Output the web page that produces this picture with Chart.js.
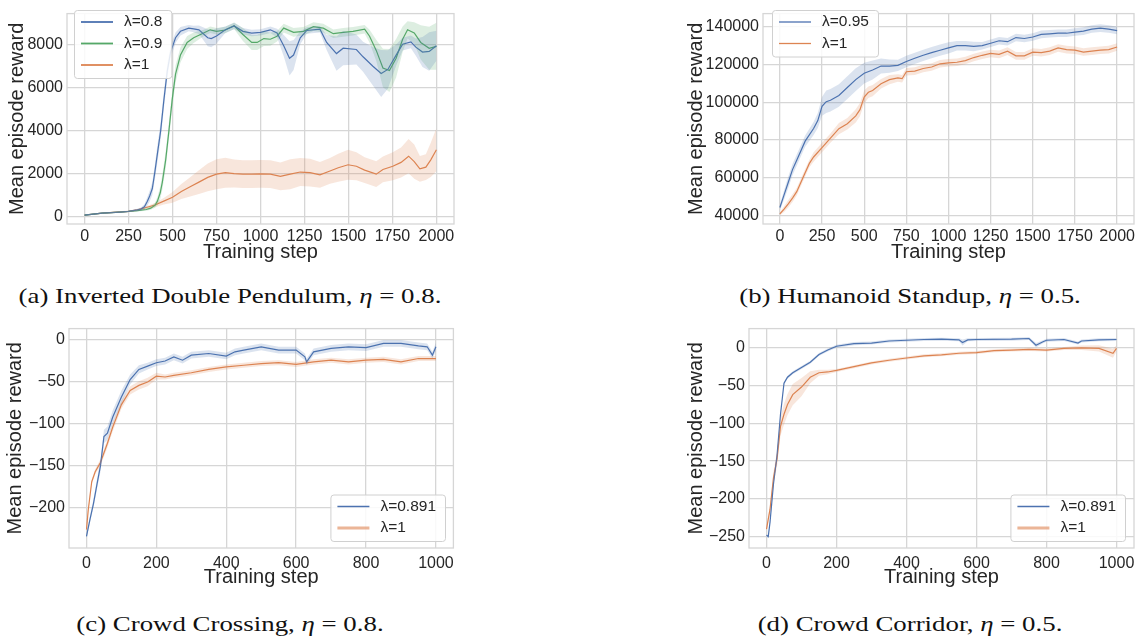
<!DOCTYPE html>
<html lang="en">
<head>
<meta charset="utf-8" />
<title>Mean episode reward vs training step</title>
<script src="https://cdn.jsdelivr.net/npm/chart.js@4.4.1/dist/chart.umd.min.js"></script>
<style>
  html, body { margin: 0; padding: 0; background: #fff; }
  body { width: 1141px; height: 639px; position: relative; overflow: hidden; }
  canvas { position: absolute; }
  .cap {
    position: absolute; width: 600px; text-align: center; white-space: nowrap;
    font: 22px/26px "Liberation Serif", "Times New Roman", serif; color: #111;
    transform: scaleX(1.22); transform-origin: 50% 50%;
  }
</style>
</head>
<body>
<canvas id="chartA" width="460" height="270" style="left:0;top:0"></canvas>
<canvas id="chartB" width="461" height="270" style="left:680px;top:0"></canvas>
<canvas id="chartC" width="460" height="280" style="left:0;top:315px"></canvas>
<canvas id="chartD" width="461" height="280" style="left:680px;top:315px"></canvas>

<div class="cap" style="left:-70px;top:283px">(a) Inverted Double Pendulum, <i>η</i> = 0.8.</div>
<div class="cap" style="left:610px;top:283px">(b) Humanoid Standup, <i>η</i> = 0.5.</div>
<div class="cap" style="left:-70px;top:611px">(c) Crowd Crossing, <i>η</i> = 0.8.</div>
<div class="cap" style="left:610px;top:611px">(d) Crowd Corridor, <i>η</i> = 0.5.</div>

<script>
// ---- (a) Inverted Double Pendulum ----
const X_TICKS_A = [0, 250, 500, 750, 1000, 1250, 1500, 1750, 2000];
const Y_TICKS_A = [0, 2000, 4000, 6000, 8000];

const STEPS_A_08 = [0, 100, 200, 250, 300, 320, 340, 357, 370, 385, 400, 414, 432, 451, 470, 489, 517, 545, 592, 620, 650, 700, 720, 750, 800, 850, 900, 950, 1000, 1056, 1094, 1132, 1165, 1188, 1226, 1263, 1338, 1376, 1432, 1470, 1545, 1583, 1639, 1686, 1724, 1771, 1808, 1855, 1883, 1921, 1959, 2000];
const REWARD_A_08 = [60, 150, 200, 230, 300, 340, 450, 710, 950, 1300, 2100, 2930, 3970, 5450, 6785, 7670, 8340, 8640, 8790, 8750, 8710, 8340, 8300, 8420, 8710, 8890, 8640, 8560, 8590, 8710, 8560, 7970, 7380, 7530, 8340, 8680, 8740, 8120, 7600, 7850, 7790, 7450, 7010, 6670, 6860, 7530, 8040, 8150, 7900, 7670, 7700, 7970];
const SPREAD_A_08 = [30, 30, 30, 30, 60, 80, 120, 200, 250, 300, 350, 400, 400, 400, 350, 300, 250, 200, 150, 150, 200, 400, 400, 350, 150, 150, 150, 150, 150, 150, 200, 500, 800, 700, 300, 150, 150, 350, 800, 800, 700, 700, 900, 1100, 900, 500, 300, 300, 400, 700, 900, 700];

const STEPS_A_09 = [0, 100, 200, 250, 300, 350, 376, 400, 414, 430, 442, 461, 479, 498, 517, 545, 583, 620, 677, 714, 750, 800, 850, 900, 950, 981, 1019, 1056, 1094, 1132, 1188, 1244, 1301, 1357, 1414, 1470, 1526, 1592, 1620, 1658, 1696, 1733, 1771, 1808, 1836, 1874, 1911, 1959, 2000];
const REWARD_A_09 = [60, 150, 200, 230, 270, 320, 385, 520, 710, 1100, 1600, 2640, 3970, 5450, 6640, 7530, 8120, 8340, 8560, 8710, 8640, 8700, 8900, 8490, 8120, 8120, 8300, 8270, 8410, 8790, 8590, 8640, 8860, 8790, 8530, 8590, 8640, 8740, 8410, 7750, 6930, 6810, 7380, 8270, 8710, 8560, 8120, 7850, 7940];
const SPREAD_A_09 = [30, 30, 30, 30, 40, 60, 80, 120, 200, 300, 350, 400, 400, 400, 400, 350, 300, 250, 150, 150, 150, 150, 150, 300, 350, 350, 350, 300, 250, 200, 200, 200, 200, 200, 200, 200, 200, 200, 300, 500, 900, 1000, 900, 600, 400, 500, 800, 1000, 1100];

const STEPS_A_1 = [0, 100, 250, 300, 350, 400, 450, 500, 550, 600, 650, 700, 750, 800, 850, 900, 950, 1000, 1056, 1113, 1169, 1226, 1282, 1338, 1395, 1442, 1498, 1545, 1592, 1658, 1696, 1752, 1799, 1842, 1874, 1906, 1940, 1968, 2000];
const REWARD_A_1 = [60, 150, 237, 300, 415, 530, 710, 890, 1160, 1380, 1600, 1820, 1970, 2040, 2000, 1970, 1970, 1985, 1970, 1870, 1970, 2070, 2040, 1940, 2120, 2270, 2410, 2340, 2160, 1970, 2190, 2340, 2520, 2810, 2560, 2220, 2300, 2640, 3110];
const SPREAD_A_1 = [20, 30, 40, 50, 60, 100, 150, 250, 350, 450, 550, 650, 700, 700, 650, 650, 650, 650, 650, 650, 700, 650, 650, 600, 600, 650, 700, 650, 600, 600, 600, 650, 700, 800, 800, 600, 600, 800, 1000];

// ---- (b) Humanoid Standup ----
const X_TICKS_B = [0, 250, 500, 750, 1000, 1250, 1500, 1750, 2000];
const Y_TICKS_B = [40000, 60000, 80000, 100000, 120000, 140000];

const STEPS_B_095 = [0, 25, 50, 75, 100, 150, 200, 225, 250, 275, 300, 350, 400, 450, 500, 550, 600, 650, 700, 750, 800, 850, 900, 950, 1000, 1050, 1100, 1150, 1200, 1250, 1300, 1350, 1400, 1450, 1500, 1550, 1600, 1650, 1700, 1750, 1800, 1850, 1900, 1950, 2000];
const REWARD_B_095 = [44200, 50900, 57600, 64300, 69300, 79400, 86100, 90300, 97800, 100300, 101100, 103600, 107800, 112000, 115400, 117100, 119200, 119200, 119600, 121600, 123300, 124900, 126300, 127600, 128800, 130000, 130000, 129600, 130000, 131300, 132600, 132100, 134300, 133800, 134600, 136000, 136300, 136600, 136600, 137200, 137700, 138800, 139300, 138800, 138000];
const SPREAD_B_095 = [1500, 2500, 3000, 3000, 3000, 3000, 3500, 4000, 5000, 6000, 6000, 6000, 6000, 6000, 5500, 5000, 4000, 3500, 3000, 3000, 3000, 3000, 3000, 3000, 3000, 2500, 2500, 2500, 2000, 2000, 2000, 2000, 2000, 2000, 2000, 2000, 2000, 2000, 2000, 2000, 2000, 2000, 2000, 2000, 2000];

const STEPS_B_1 = [0, 25, 50, 75, 100, 125, 150, 175, 200, 250, 300, 350, 400, 450, 475, 500, 525, 550, 600, 650, 700, 725, 750, 800, 850, 900, 950, 1000, 1050, 1100, 1150, 1200, 1250, 1300, 1350, 1400, 1450, 1500, 1550, 1600, 1650, 1700, 1750, 1800, 1850, 1900, 1950, 2000];
const REWARD_B_1 = [40800, 43400, 46200, 49200, 52600, 57600, 62600, 67600, 71000, 76000, 81000, 86000, 88600, 92800, 96100, 102800, 105300, 106200, 109800, 112000, 112900, 112500, 116200, 116500, 117900, 118700, 120400, 120900, 121200, 122100, 123700, 124900, 125900, 125400, 127100, 124600, 124600, 126600, 126300, 127100, 128800, 127900, 127600, 126600, 127100, 127600, 127900, 129300];
const SPREAD_B_1 = [800, 1500, 2000, 2000, 2000, 2000, 2000, 2000, 2500, 2500, 2500, 3000, 3000, 3500, 3500, 3500, 3000, 3000, 2500, 2500, 2000, 2000, 2000, 2000, 2000, 2000, 2000, 2000, 2000, 2000, 2000, 2000, 2000, 2000, 2000, 2000, 2000, 2000, 2000, 2000, 2000, 2000, 2000, 2000, 2000, 2000, 2000, 2000];

// ---- (c) Crowd Crossing ----
const X_TICKS_C = [0, 200, 400, 600, 800, 1000];
const Y_TICKS_C = [-200, -150, -100, -50, 0];

const STEPS_C_0891 = [0, 10, 20, 30, 40, 50, 60, 75, 100, 125, 150, 175, 200, 225, 250, 275, 300, 350, 400, 425, 450, 500, 550, 600, 625, 630, 650, 700, 750, 800, 850, 900, 950, 975, 990, 1000];
const REWARD_C_0891 = [-234, -214, -195, -172, -150, -115, -111, -92, -68, -47, -35, -31, -27, -25, -20, -24, -18, -16, -19, -14, -12, -8, -12, -12, -20, -26, -14, -10, -8, -9, -4, -4, -7, -8, -18, -8];
const SPREAD_C_0891 = [3, 4, 5, 6, 7, 8, 8, 8, 8, 6, 5, 4, 4, 4, 4, 4, 4, 4, 4, 4, 4, 4, 4, 4, 4, 4, 4, 4, 4, 4, 4, 4, 4, 4, 4, 5];

const STEPS_C_1 = [0, 5, 15, 25, 40, 60, 75, 100, 125, 150, 175, 200, 225, 250, 300, 350, 400, 450, 500, 550, 600, 650, 700, 750, 800, 850, 900, 950, 1000];
const REWARD_C_1 = [-226, -203, -169, -157, -146, -123, -104, -77, -60, -54, -50, -43, -44, -42, -39, -35, -32, -30, -28, -27, -29, -26, -24, -26, -24, -23, -26, -22, -22];
const SPREAD_C_1 = [3, 3, 3, 3, 4, 5, 5, 5, 5, 5, 5, 4, 3, 3, 3, 3, 3, 3, 3, 3, 3, 3, 3, 3, 3, 3, 3, 3, 3];

// ---- (d) Crowd Corridor ----
const X_TICKS_D = [0, 200, 400, 600, 800, 1000];
const Y_TICKS_D = [-250, -200, -150, -100, -50, 0];

const STEPS_D_0891 = [0, 5, 10, 20, 30, 40, 50, 60, 75, 100, 125, 150, 175, 200, 250, 300, 350, 400, 450, 500, 550, 560, 575, 600, 700, 750, 770, 790, 800, 850, 890, 900, 950, 1000];
const REWARD_D_0891 = [-248, -250, -231, -180, -143, -88, -47, -39, -33, -26, -19, -9, -3, 2, 5.5, 6.3, 9, 10, 11, 11.4, 10.6, 7, 10.5, 11, 11.4, 12.3, 3.4, 8, 10, 11, 6.3, 9, 10.6, 11];
const SPREAD_D_0891 = [2, 2, 2, 2, 2, 2, 2, 2, 2, 2, 2, 2, 2, 2, 2, 2, 2, 2, 2, 2, 2, 4, 2, 2, 2, 2, 3, 2, 2, 2, 2, 2, 2, 2];

const STEPS_D_1 = [0, 10, 20, 30, 40, 50, 60, 75, 100, 125, 150, 175, 200, 250, 300, 350, 400, 450, 500, 550, 600, 650, 700, 750, 800, 850, 900, 950, 990, 1000];
const REWARD_D_1 = [-240, -214, -172, -147, -104, -88, -75, -62, -52, -39, -33, -32, -30, -25, -20, -16.5, -13.5, -10.6, -9.3, -7.2, -6.3, -3.8, -3, -2.1, -3, -0.8, 0, -0.8, -7.2, -0.8];
const SPREAD_D_1 = [3, 5, 8, 10, 12, 14, 14, 14, 12, 8, 4, 3, 2, 2, 2, 2, 2, 2, 2, 2, 2, 2, 2, 2, 2, 2, 3, 4, 6, 4];

const BLUE = '#4c72b0', GREEN = '#55a868', ORANGE = '#dd8452';
const INK = '#262626';
const GRID = '#d6d6d6';
const FONT = '"Liberation Sans", Arial, sans-serif';

function fade(hex, a) {
  const n = parseInt(hex.slice(1), 16);
  return `rgba(${n >> 16},${(n >> 8) & 255},${n & 255},${a})`;
}

function pts(xs, ys) { return xs.map((x, i) => ({ x, y: ys[i] })); }

function fmt(v) { return v < 0 ? '\u2212' + Math.abs(v) : String(v); }

// mean line plus a shaded +/- spread band
function seriesDatasets(s) {
  const upper = s.y.map((v, i) => v + s.spread[i]);
  const lower = s.y.map((v, i) => v - s.spread[i]);
  return {
    band: [
      { data: pts(s.x, upper), borderWidth: 0, borderColor: 'transparent', pointRadius: 0, fill: false },
      { data: pts(s.x, lower), borderWidth: 0, borderColor: 'transparent', pointRadius: 0, fill: '-1', backgroundColor: fade(s.color, 0.2) }
    ],
    line: {
      label: s.label, data: pts(s.x, s.y), borderColor: s.color, borderWidth: 1.2,
      pointRadius: 0, fill: false, legendWidth: s.legendWidth, legendColor: s.legendColor
    }
  };
}

const frame = {
  id: 'frame',
  beforeDatasetsDraw(chart) {
    const { ctx, chartArea: a } = chart;
    ctx.save();
    ctx.strokeStyle = GRID;
    ctx.lineWidth = 1.3;
    ctx.strokeRect(a.left, a.top, a.right - a.left, a.bottom - a.top);
    ctx.restore();
  }
};

// legend box drawn inside the plot area, like matplotlib's
const insideLegend = {
  id: 'insideLegend',
  afterDraw(chart, args, o) {
    const ctx = chart.ctx;
    const items = chart.data.datasets.filter(d => d.label);
    ctx.save();
    ctx.font = '15.5px ' + FONT;
    const textW = Math.max(...items.map(d => ctx.measureText(d.label).width));
    const w = 7 + 32 + 11 + textW + 9;
    const h = 12 + (items.length - 1) * 21.5 + 13;
    const left = o.left != null ? o.left : o.right - w;
    const top = o.top != null ? o.top : o.bottom - h;
    ctx.beginPath();
    ctx.roundRect(left + 0.5, top + 0.5, w, h, 3);
    ctx.fillStyle = 'rgba(255,255,255,0.85)';
    ctx.fill();
    ctx.strokeStyle = '#d0d0d0';
    ctx.lineWidth = 1;
    ctx.stroke();
    items.forEach((d, i) => {
      const y = top + 12 + i * 21.5;
      ctx.beginPath();
      ctx.moveTo(left + 7, y);
      ctx.lineTo(left + 39, y);
      ctx.strokeStyle = d.legendColor || d.borderColor;
      ctx.lineWidth = d.legendWidth || 1.5;
      ctx.stroke();
      ctx.fillStyle = INK;
      ctx.textBaseline = 'middle';
      ctx.textAlign = 'left';
      ctx.fillText(d.label, left + 50, y);
    });
    ctx.restore();
  }
};

function makeChart(id, c) {
  const canvas = document.getElementById(id);
  const W = canvas.width, H = canvas.height;
  const built = c.series.map(seriesDatasets);
  const datasets = built.flatMap(b => b.band).concat(built.map(b => b.line));
  const tickFont = { family: FONT, size: 16 };
  const titleFont = { family: FONT, size: 20 };
  new Chart(canvas, {
    type: 'line',
    data: { datasets },
    options: {
      responsive: false,
      animation: false,
      devicePixelRatio: 1,
      layout: { padding: { left: 0, top: c.area.top, right: W - c.area.right, bottom: 0 } },
      elements: { line: { tension: 0 } },
      plugins: { legend: { display: false }, tooltip: { enabled: false }, insideLegend: c.legend },
      scales: {
        x: {
          type: 'linear', min: c.xMin, max: c.xMax,
          afterFit: s => { s.height = H - c.area.bottom; },
          afterBuildTicks: s => { s.ticks = c.xTicks.map(v => ({ value: v })); },
          grid: { color: GRID, lineWidth: 1.3, drawTicks: false },
          border: { display: false },
          ticks: { padding: c.xTickPad, color: INK, font: tickFont, maxRotation: 0, autoSkip: false, callback: fmt },
          title: { display: true, text: 'Training step', color: INK, font: titleFont, padding: { top: 0, bottom: c.xTitlePad } }
        },
        y: {
          type: 'linear', min: c.yMin, max: c.yMax,
          afterFit: s => { s.width = c.area.left; },
          afterBuildTicks: s => { s.ticks = c.yTicks.map(v => ({ value: v })); },
          grid: { color: GRID, lineWidth: 1.3, drawTicks: false },
          border: { display: false },
          ticks: { padding: 4, color: INK, font: tickFont, autoSkip: false, callback: fmt },
          title: { display: true, text: 'Mean episode reward', color: INK, font: titleFont, padding: { top: c.yTitlePad, bottom: 0 } }
        }
      }
    },
    plugins: [frame, insideLegend]
  });
}

makeChart('chartA', {
  area: { left: 67, top: 3, right: 454, bottom: 224 },
  xMin: -100, xMax: 2100, yMin: -356, yMax: 9467,
  xTicks: X_TICKS_A, yTicks: Y_TICKS_A, xTickPad: 3, xTitlePad: 6, yTitlePad: 5,
  legend: { left: 74, top: 10 },
  series: [
    { label: 'λ=0.8', color: BLUE, x: STEPS_A_08, y: REWARD_A_08, spread: SPREAD_A_08, legendWidth: 1.8 },
    { label: 'λ=0.9', color: GREEN, x: STEPS_A_09, y: REWARD_A_09, spread: SPREAD_A_09, legendWidth: 1.8 },
    { label: 'λ=1', color: ORANGE, x: STEPS_A_1, y: REWARD_A_1, spread: SPREAD_A_1, legendWidth: 1.8 }
  ]
});

makeChart('chartB', {
  area: { left: 83, top: 2, right: 454, bottom: 224 },
  xMin: -100, xMax: 2100, yMin: 35480, yMax: 147000,
  xTicks: X_TICKS_B, yTicks: Y_TICKS_B, xTickPad: 3, xTitlePad: 6, yTitlePad: 4,
  legend: { left: 92, top: 10 },
  series: [
    { label: 'λ=0.95', color: BLUE, x: STEPS_B_095, y: REWARD_B_095, spread: SPREAD_B_095, legendWidth: 1.3 },
    { label: 'λ=1', color: ORANGE, x: STEPS_B_1, y: REWARD_B_1, spread: SPREAD_B_1, legendWidth: 1.3 }
  ]
});

makeChart('chartC', {
  area: { left: 69, top: 4, right: 454, bottom: 233 },
  xMin: -50, xMax: 1050, yMin: -248, yMax: 13.7,
  xTicks: X_TICKS_C, yTicks: Y_TICKS_C, xTickPad: 6, xTitlePad: 6, yTitlePad: 3,
  legend: { right: 445, bottom: 226 },
  series: [
    { label: 'λ=0.891', color: BLUE, x: STEPS_C_0891, y: REWARD_C_0891, spread: SPREAD_C_0891, legendWidth: 1.3 },
    { label: 'λ=1', color: ORANGE, x: STEPS_C_1, y: REWARD_C_1, spread: SPREAD_C_1, legendWidth: 3, legendColor: fade(ORANGE, 0.6) }
  ]
});

makeChart('chartD', {
  area: { left: 69, top: 4, right: 454, bottom: 233 },
  xMin: -50, xMax: 1050, yMin: -265, yMax: 25.4,
  xTicks: X_TICKS_D, yTicks: Y_TICKS_D, xTickPad: 6, xTitlePad: 6, yTitlePad: 4,
  legend: { right: 445, bottom: 226 },
  series: [
    { label: 'λ=0.891', color: BLUE, x: STEPS_D_0891, y: REWARD_D_0891, spread: SPREAD_D_0891, legendWidth: 1.3 },
    { label: 'λ=1', color: ORANGE, x: STEPS_D_1, y: REWARD_D_1, spread: SPREAD_D_1, legendWidth: 3, legendColor: fade(ORANGE, 0.6) }
  ]
});
</script>
</body>
</html>
